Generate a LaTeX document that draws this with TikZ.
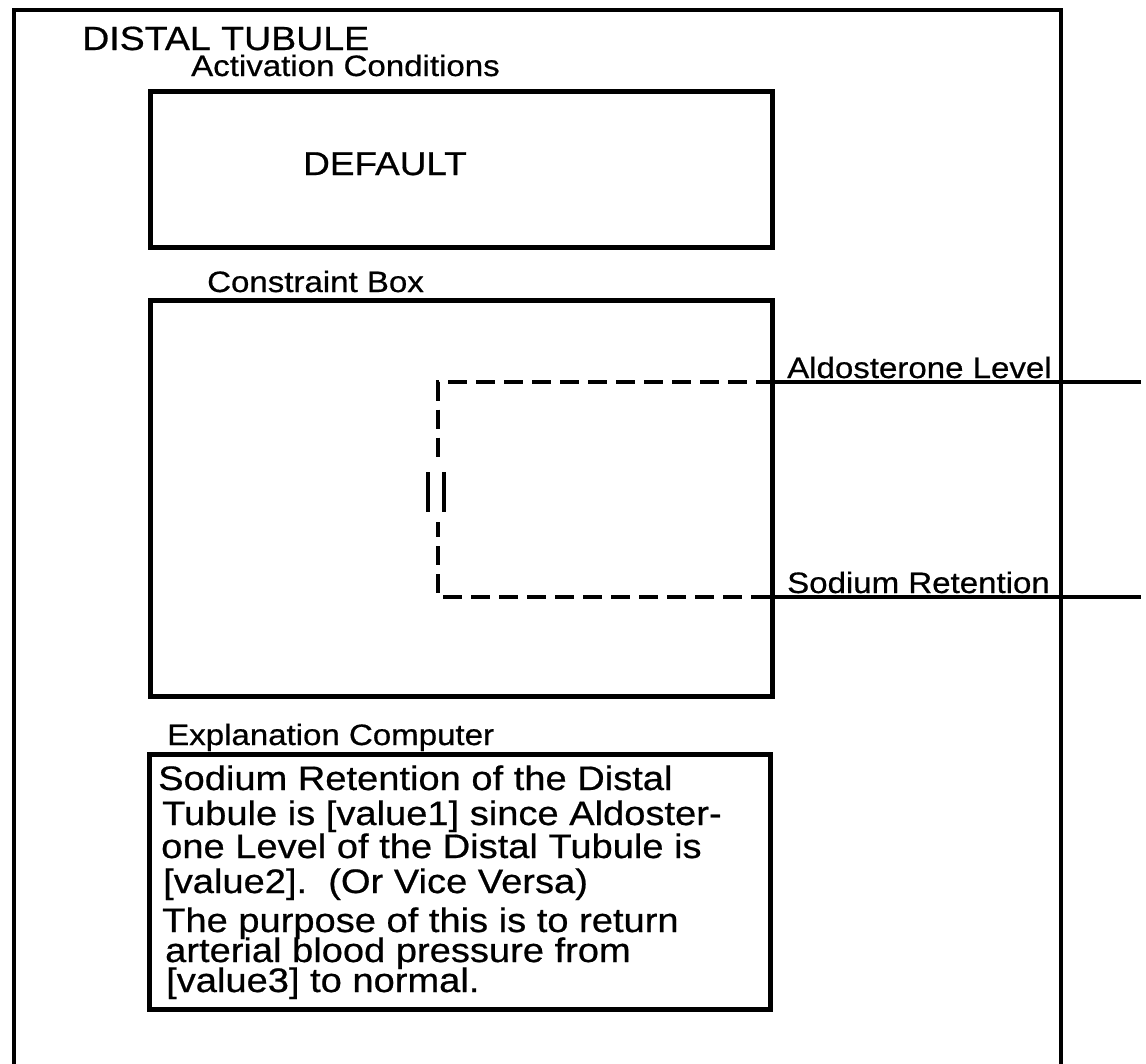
\documentclass[tikz,border=0pt]{standalone}
\usepackage{fontspec}
\setmainfont[FakeStretch=1.12,FakeBold=0.6]{Liberation Sans}
\begin{document}
\begin{tikzpicture}[x=1pt,y=-1pt,
  boxline/.style={line width=4.5pt},
  frame/.style={draw,line width=4.5pt,inner sep=0pt,anchor=north west},
  lbl/.style={anchor=base west,inner sep=0pt,font=\fontsize{29.5}{29.5}\selectfont},
  expl/.style={anchor=base west,inner sep=0pt,font=\fontsize{34}{34}\selectfont},
  dashline/.style={line width=4.5pt,dash pattern=on 19pt off 9pt},
  solidline/.style={line width=4pt}]
\useasboundingbox (0,0) rectangle (1146,1063);
\fill[white] (0,0) rectangle (1146,1063);
% outer frame (open at bottom)
\coordinate (obl) at (14,1070);
\coordinate (otl) at (14,10);
\coordinate (otr) at (1061,10);
\coordinate (obr) at (1061,1070);
\draw[boxline,line join=miter] (obl) -- (otl) -- (otr) -- (obr);
\node[anchor=base west,inner sep=0pt,font=\fontsize{33.5}{33.5}\selectfont] (title) at (82,50) {DISTAL TUBULE};
% activation conditions
\node[lbl] (actlbl) at (191,76) {Activation Conditions};
\node[frame,minimum width=622pt,minimum height=156pt] (act) at (148,89) {};
\node[anchor=base west,inner sep=0pt,font=\fontsize{33}{33}\selectfont] (def) at (303,175) {DEFAULT};
% constraint box
\node[lbl] (conlbl) at (207,292) {Constraint Box};
\node[frame,minimum width=622pt,minimum height=396pt] (con) at (148,298) {};
\coordinate (dtl) at (438,382);
\coordinate (dbl) at (438,597);
\coordinate (dgt) at (438,464);
\coordinate (dgb) at (438,522);
\coordinate (dtr) at (con.east |- dtl);
\coordinate (dbr) at (con.east |- dbl);
\coordinate (aend) at (1141,382);
\coordinate (send) at (1141,597);
\draw[dashline] (dtr) -- (dtl) -- (dgt);
\draw[dashline,dash phase=4pt] (dgb) -- (dbl) -- (dbr);
\draw[solidline] (dtr) -- (aend);
\draw[solidline] (dbr) -- (send);
\node[lbl] (ald) at (787,378) {Aldosterone Level};
\node[lbl] (sod) at (787,593) {Sodium Retention};
% equality marker
\coordinate (e1a) at (428,472); \coordinate (e1b) at (428,512);
\coordinate (e2a) at (444,472); \coordinate (e2b) at (444,512);
\draw[line width=4.5pt] (e1a) -- (e1b);
\draw[line width=4.5pt] (e2a) -- (e2b);
% explanation computer
\node[lbl] (explbl) at (167,745) {Explanation Computer};
\node[frame,minimum width=621pt,minimum height=255pt] (exp) at (147,752) {};
\node[expl] (x1) at (158,790) {Sodium Retention of the Distal};
\node[expl] (x2) at (162,825) {Tubule is [value1] since Aldoster-};
\node[expl] (x3) at (161,858) {one Level of the Distal Tubule is};
\node[expl] (x4) at (163,893) {[value2].\ \ (Or Vice Versa)};
\node[expl] (x5) at (162,932) {The purpose of this is to return};
\node[expl] (x6) at (165,962) {arterial blood pressure from};
\node[expl] (x7) at (166,992) {[value3] to normal.};
\end{tikzpicture}
\end{document}
